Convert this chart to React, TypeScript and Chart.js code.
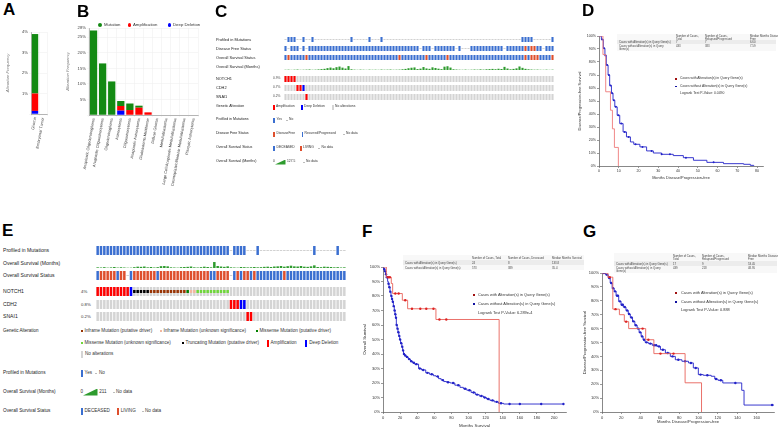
import React, { useEffect, useRef } from "react";
import { Chart, registerables } from "chart.js";

Chart.register(...registerables);

const FONT = "'Liberation Sans', Arial, Helvetica, sans-serif";
Chart.defaults.font.family = FONT;

// ================= Panel A =================
const aCategories = ["Glioma", "Embryonal Tumor"];
const aMutation = [2.9, 0];
const aAmplification = [0.85, 0];
const aDeepDeletion = [0.15, 0];

// ================= Panel B =================
const bCategories = [
  "Anaplastic Oligodendroglioma",
  "Anaplastic Oligoastrocytoma",
  "Oligodendroglioma",
  "Astrocytoma",
  "Oligoastrocytoma",
  "Anaplastic Astrocytoma",
  "Glioblastoma Multiforme",
  "Diffuse Glioma",
  "Medulloblastoma",
  "Large Cell/Anaplastic Medulloblastoma",
  "Desmoplastic/Nodular Medulloblastoma",
  "Pilocytic Astrocytoma",
];
const bMutation = [27.2, 16.6, 10.8, 1.6, 2.1, 0.65, 0, 0, 0, 0, 0, 0];
const bAmplification = [0, 0, 0, 1.5, 1.6, 2.35, 0.85, 0, 0, 0, 0, 0];
const bDeepDeletion = [0, 0, 0, 1.4, 0, 0, 0, 0, 0, 0, 0, 0];

// ================= Panel C (oncoprint, 90 samples) =================
const cProfiled = "-YYY--Y--Y ---------- --Y-----Y- --Y------- ---------- ---------- ---------- ---------Y YYY------Y";
const cDiseaseFree = "R-RRR-R-RR RRRRRRRRRR RRRRRRRRRR RRRRRRRRRR RRRRR-RRR- RRRRRRR-R- --RRRRRRRR RRR-RRRRRR FRFFRR-RRR";
const cOsStatus = "DLDDDDDLDD DDDDDDDDDD DDDDDDDDDD DDDDDDDDLD DDDDDDDLDD DDDDLDDDDD DDDDDDDDDD DDDDDDDDDD LDLLLDDDDL";
const cOsMonths = [
  6, 9, 4, 8, 12, 5, 7, 10, 14, 6,
  9, 15, 22, 30, 48, 62, 45, 72, 88, 60,
  38, 100, 18, 9, 5, 10, 7, 4, 9, 6,
  8, 5, 11, 7, 9, 12, 6, 8, 10, 18,
  28, 45, 58, 66, 24, 35, 75, 40, 30, 68,
  52, 34, 22, 85, 96, 62, 18, 12, 8, 6,
  10, 5, 8, 12, 9, 16, 10, 18, 22, 28,
  20, 32, 26, 80, 38, 18, 28, 42, 90, 55,
  30, 18, 12, 8, 10, 6, 5, 9, 4, 8,
];
const cOsMonthsMax = 127.5;
const cNotch1 = "AAAA...... .......... .......... .......... .......... .......... .......... .......... ..........";
const cCdh2 = "....AAX... .......... .......... .......... .......... .......... .......... .......... ..........";
const cSnai1 = ".......A.. .......... .......... .......... .......... .......... .......... .......... ..........";
const cPercents = ["0.9%", "0.7%", "0.2%"];

// ================= Panel E (oncoprint, 75 samples) =================
const eProfiled = "YYYYYYYYYY YYYYYYYYYY YYYYYYYYYY YYYYYYYYYY -YYYY---Y- ---------- -----Y---- --Y--";
const eOsStatus = "DLLLLLDLLN DLLLLLLLDL LLLLLLLLLL LLLLDDLLLL NDLDLLDLDD DDDDDDLDDD DDDDDDDDDD DDDDD";
const eOsMonths = [
  20, 15, 25, 10, 18, 30, 12, 22, 15, 8,
  10, 25, 40, 35, 45, 20, 30, 15, 25, 55,
  60, 50, 20, 15, 10, 25, 30, 35, 45, 20,
  15, 25, 40, 30, 20, 180, 60, 45, 35, 50,
  20, 15, 10, 30, 25, 18, 22, 30, 20, 25,
  35, 40, 30, 45, 50, 60, 40, 55, 70, 50,
  45, 60, 40, 35, 50, 80, 30, 25, 40, 35,
  30, 20, 25, 15, 20,
];
const eOsMonthsMax = 211;
const eNotch1 = "AAAAAAAAAA XTTTTTPPPP PPPPPPPMUU SSSSSSSSSS .......... .......... .......... .....";
const eCdh2 = ".......... .......... .......... .......... AAAXX..... .......... .......... .....";
const eSnai1 = ".......... .......... .......... .......... .....AA... .......... .......... .....";
const ePercents = ["4%", "0.8%", "0.2%"];

// ================= Panel D (KM, disease/progression-free) =================
const dWithT = [0, 2.0, 3.4, 5.8, 6.8, 7.8, 9.8];
const dWithS = [100, 85.7, 57.1, 42.9, 28.6, 14.3, 0];
const dWithCensor: number[] = [];
const dWithoutT = [0, 1.2, 2.2, 3.0, 3.7, 4.6, 5.4, 6.3, 7.1, 8.0, 9.2, 10.5, 12.2, 13.9, 15.9, 17.6, 20.7, 24.1, 27.5, 31.7, 37.6, 42.7, 47.8, 54.6, 63.0, 73.2, 76.6, 78.3];
const dWithoutS = [100, 97.4, 90.5, 85, 77.6, 70, 62, 56, 50.6, 45.5, 39, 32.6, 26.2, 22.4, 18.5, 16.7, 14.7, 11.6, 10, 9, 8, 6.4, 4.4, 2.8, 1.8, 1.3, 0.5, 0];
const dWithoutCensor = [1.6, 2.6, 3.3, 4.1, 5.0, 5.8, 6.7, 7.5, 8.5, 9.8, 11.3, 13, 15, 18.5, 22, 26.6, 31.7, 35.9, 44, 58];

// ================= Panel F (KM, overall survival) =================
const fWithT = [0, 3.9, 9.7, 11.3, 22.6, 28.8, 61.9, 135.8];
const fWithS = [100, 92.9, 88.6, 81.7, 77.1, 71.2, 63.8, 0];
const fWithCensor = [6, 8, 14.4, 18.3, 26, 33.9, 43.6, 50.6, 59, 66, 74];
const fWithoutT = [0, 1, 2, 3, 4, 5.4, 6.2, 7, 8.2, 9.3, 10.2, 11, 12.1, 13.2, 14, 14.8, 15.6, 16.5, 17.5, 18.5, 19.5, 20.6, 22, 23, 24, 25.5, 27, 29.5, 32, 34.5, 37, 41.6, 45, 50, 54.5, 59, 62, 65, 68, 71, 74.5, 78.6, 84, 90, 94, 98, 103, 108, 112.5, 117.5, 121, 125, 130, 135, 141, 211];
const fWithoutS = [100, 98.5, 97, 95, 93, 90, 88.5, 86, 83, 80, 78, 76, 73, 70, 67.5, 65, 60, 57.5, 55, 52.5, 50, 47.5, 45, 42.5, 40, 39, 38, 36.5, 35, 34, 33, 30, 29, 27, 26, 25, 24.5, 23, 22, 21, 20.5, 20, 18.5, 17, 16, 15, 13.5, 12, 11, 10, 9, 8, 7, 6, 5.5, 5.5];
const fWithoutCensor = [1.5, 2.5, 3.5, 4.5, 5, 6.5, 7.5, 8.5, 9.8, 10.6, 11.5, 12.6, 13.6, 14.4, 15.2, 16, 17, 18, 19, 20, 21.3, 22.5, 23.5, 24.5, 26, 28, 30.5, 33, 36, 39, 43, 47, 52, 57, 64, 70, 76, 82, 88, 96, 101, 106, 110, 115, 119, 123, 128, 133, 138, 148, 160, 185, 211];

// ================= Panel G (KM, disease/progression-free) =================
const gWithT = [0, 6.1, 11.2, 18, 23.1, 27.6, 45.2, 53.7, 86, 103];
const gWithS = [100, 97, 74, 70, 65, 60, 52, 42, 21, 0];
const gWithCensor = [8, 14, 25, 42, 48, 60.5, 74];
const gWithoutT = [0, 3.7, 6.5, 8.5, 10.5, 12.6, 14.6, 17.3, 19.7, 22, 24.8, 27.2, 29.3, 31.6, 34, 36.4, 38.4, 40.5, 42.5, 44.6, 48, 52, 57, 60.5, 65.6, 70.7, 75.9, 82.7, 89.5, 94.5, 99.7, 104.8, 113, 116.7, 120, 125, 144.6, 147, 178];
const gWithoutS = [100, 98.8, 96.4, 92.8, 89, 86.8, 83.7, 79.6, 77.2, 75.5, 73, 70.5, 68, 65.2, 62.4, 60, 57.3, 54.4, 52, 50.1, 49.2, 48, 47.2, 44.8, 42.4, 40, 37.6, 36.5, 35.3, 31.7, 26.9, 26.4, 25.7, 23.7, 22.8, 20.9, 15.6, 5, 5];
const gWithoutCensor = [2, 5, 7.5, 9.5, 11.5, 13.5, 15.5, 16.5, 18.5, 20.5, 21.5, 23.5, 26, 28, 30.5, 32.5, 35, 37.5, 39.5, 41.5, 43.5, 46, 50, 54, 56, 59, 63, 68, 73, 79, 86, 92, 97, 102, 109, 118, 123, 138, 176];

// ================= colours =================
const GREEN = "#138a13";
const RED = "#ff0000";
const BLUE = "#0000ff";
const CL_BLUE = "#3b6fd0";
const CL_RED = "#de4f2d";
const CELL_GRAY = "#d4d4d4";
const LINE_GRAY = "#bdbdbd";
const OSM_GREEN = "#2e9b2e";
const KM_BLUE = "#2222c8";

// ================= helpers =================
const seq = (s: string) => s.replace(/\s/g, "").split("");

type Glyph = { color: string; kind: "full" | "mid" | "line" };
type Track =
  | { code: string; top: number; bottom: number; glyphs: Record<string, Glyph>; background?: string }
  | { values: number[]; max: number; baseline: number; height: number; color: string };

function oncoConfig(tracks: Track[], n: number, H: number, bp: number): any {
  const datasets: any[] = [];
  for (const tr of tracks) {
    if ("values" in tr) {
      datasets.push({
        data: tr.values.map((v) => [tr.baseline - (v / tr.max) * tr.height, tr.baseline]),
        backgroundColor: tr.color,
        order: 2,
      });
      continue;
    }
    const chars = seq(tr.code);
    const h = tr.bottom - tr.top;
    if (tr.background) {
      datasets.push({ data: chars.map(() => [tr.top, tr.bottom]), backgroundColor: tr.background, order: 5 });
    }
    for (const [ch, g] of Object.entries(tr.glyphs)) {
      const span =
        g.kind === "full"
          ? [tr.top, tr.bottom]
          : g.kind === "mid"
          ? [tr.top + h / 3, tr.bottom - h / 3]
          : [tr.top + h / 2 - 0.35, tr.top + h / 2 + 0.35];
      datasets.push({
        data: chars.map((c) => (c === ch ? span : null)),
        backgroundColor: g.color,
        order: g.kind === "mid" ? 1 : 3,
      });
    }
  }
  return {
    type: "bar",
    data: { labels: Array.from({ length: n }, (_, i) => String(i + 1)), datasets },
    options: {
      animation: false,
      responsive: false,
      devicePixelRatio: 1,
      layout: { padding: 0 },
      plugins: { legend: { display: false }, tooltip: { enabled: false } },
      datasets: { bar: { grouped: false, barPercentage: bp, categoryPercentage: 1, borderWidth: 0, inflateAmount: 0 } },
      scales: {
        x: { display: false },
        y: { display: false, min: 0, max: H, reverse: true },
      },
    },
  };
}

function freqConfig(o: {
  labels: string[]; mut: number[]; amp: number[]; del: number[]; yMax: number; yW: number; xH: number;
  pad: any; titlePad: number; tickFont: number; labelFont: number; bp: number;
}): any {
  return {
    type: "bar",
    data: {
      labels: o.labels,
      datasets: [
        { label: "Deep Deletion", data: o.del, backgroundColor: BLUE },
        { label: "Amplification", data: o.amp, backgroundColor: RED },
        { label: "Mutation", data: o.mut, backgroundColor: GREEN },
      ],
    },
    options: {
      animation: false,
      responsive: false,
      devicePixelRatio: 1,
      layout: { padding: o.pad },
      plugins: { legend: { display: false }, tooltip: { enabled: false } },
      datasets: { bar: { barPercentage: o.bp, categoryPercentage: 1, borderWidth: 0 } },
      scales: {
        x: {
          stacked: true,
          ticks: { minRotation: 80, maxRotation: 80, autoSkip: false, font: { size: o.labelFont }, color: "#444", padding: 1 },
          grid: { color: "#ececec", lineWidth: 0.5, tickLength: 2 },
          border: { color: "#999", width: 0.7 },
          afterFit: (s: any) => { s.height = o.xH; },
        },
        y: {
          stacked: true,
          min: 0,
          max: o.yMax,
          ticks: { stepSize: o.yMax > 10 ? 5 : 1, font: { size: o.tickFont }, color: "#444", padding: 1, callback: (v: number) => (v === 0 ? "" : v + "%") },
          grid: { color: "#ececec", lineWidth: 0.5, tickLength: 2 },
          border: { color: "#999", width: 0.7 },
          title: { display: true, text: "Alteration Frequency", font: { size: o.tickFont, style: "italic" }, color: "#777", padding: { top: o.titlePad, bottom: 0 } },
          afterFit: (s: any) => { s.width = o.yW; },
        },
      },
    },
  };
}

function survAt(t: number[], s: number[], x: number) {
  let v = s[0];
  for (let i = 0; i < t.length; i++) if (t[i] <= x) v = s[i];
  return v;
}
const pts = (t: number[], s: number[]) => t.map((x, i) => ({ x, y: s[i] }));
const censorPts = (c: number[], t: number[], s: number[]) => c.map((x) => ({ x, y: survAt(t, s, x) }));

function kmConfig(o: any): any {
  const axisLook = {
    grid: { drawOnChartArea: false, drawTicks: true, tickLength: 2, color: "#555", lineWidth: 0.6 },
    border: { display: true, color: "#555", width: 0.7 },
  };
  return {
    type: "scatter",
    data: {
      datasets: [
        { data: pts(o.woT, o.woS), showLine: true, stepped: "before", borderColor: KM_BLUE, borderWidth: 0.9, pointRadius: 0, order: 4 },
        { data: censorPts(o.woC, o.woT, o.woS), showLine: false, pointRadius: o.markR, pointBackgroundColor: KM_BLUE, pointBorderWidth: 0, order: 3 },
        { data: pts(o.wT, o.wS), showLine: true, stepped: "before", borderColor: o.red, borderWidth: 0.9, pointRadius: 0, order: 2 },
        { data: censorPts(o.wC, o.wT, o.wS), showLine: false, pointRadius: o.markR, pointBackgroundColor: "#d22", pointBorderWidth: 0, order: 1 },
      ],
    },
    options: {
      animation: false,
      responsive: false,
      devicePixelRatio: 1,
      layout: { padding: o.pad },
      plugins: { legend: { display: false }, tooltip: { enabled: false } },
      scales: {
        x: {
          type: "linear",
          min: 0,
          max: o.xMax,
          ...axisLook,
          ticks: { stepSize: o.xStep, includeBounds: false, autoSkip: false, maxRotation: 0, font: { size: o.tickFont }, color: "#333", padding: 1 },
          title: { display: true, text: o.xTitle, font: { size: o.titleFont }, color: "#333", padding: { top: 0, bottom: o.xTitlePad } },
          afterFit: (s: any) => { s.height = o.xH; },
        },
        y: {
          type: "linear",
          min: 0,
          max: 100,
          ...axisLook,
          ticks: { stepSize: 10, autoSkip: false, font: { size: o.tickFont }, color: "#333", padding: 1, callback: (v: number) => v + "%" },
          title: { display: true, text: o.yTitle, font: { size: o.titleFont }, color: "#333", padding: { top: o.yTitlePad, bottom: 0 } },
          afterFit: (s: any) => { s.width = o.yW; },
        },
      },
    },
  };
}

// ================= HTML text helpers =================
type TX = [number, number, number, string, string?, boolean?];
const Txt = ({ t }: { t: TX }) => (
  <div
    style={{
      position: "absolute",
      left: t[0],
      top: t[1],
      fontSize: t[2],
      lineHeight: 1,
      color: t[4] || "#222",
      fontWeight: t[5] ? 700 : 400,
      whiteSpace: "nowrap",
      transform: "translateY(-50%)",
    }}
  >
    {t[3]}
  </div>
);
type BX = [number, number, number, number, string, number?]; // x, yCenter, w, h, color, radius
const Box = ({ b }: { b: BX }) => (
  <div style={{ position: "absolute", left: b[0], top: b[1] - b[3] / 2, width: b[2], height: b[3], background: b[4], borderRadius: b[5] || 0 }} />
);
const Tri = ({ x, y, w, h }: { x: number; y: number; w: number; h: number }) => (
  <div style={{ position: "absolute", left: x, top: y - h / 2, width: w, height: h, background: OSM_GREEN, clipPath: "polygon(0 100%, 100% 0, 100% 100%)" }} />
);
type RX = [number, number, number, number, string]; // x, y, w, h, color (top-left)
const Rect = ({ r }: { r: RX }) => (
  <div style={{ position: "absolute", left: r[0], top: r[1], width: r[2], height: r[3], background: r[4] }} />
);

const panelLabels: TX[] = [
  [3, 9, 17, "A", "#000", true],
  [77, 10.5, 17, "B", "#000", true],
  [215, 10.5, 17, "C", "#000", true],
  [582, 9.5, 17, "D", "#000", true],
  [2, 230, 17, "E", "#000", true],
  [362, 231, 17, "F", "#000", true],
  [583, 231, 17, "G", "#000", true],
];

const bLegend: { bx: BX[]; tx: TX[] } = {
  bx: [
    [98.3, 25, 3.4, 3.4, GREEN, 2],
    [127.6, 25, 3.4, 3.4, RED, 2],
    [167.6, 25, 3.4, 3.4, BLUE, 2],
  ],
  tx: [
    [104, 25, 4.3, "Mutation", "#333"],
    [133, 25, 4.3, "Amplification", "#333"],
    [173, 25, 4.3, "Deep Deletion", "#333"],
  ],
};

const cTexts: TX[] = [
  [216, 40, 3.9, "Profiled in Mutations"],
  [216, 49, 3.9, "Disease Free Status"],
  [216, 58, 3.9, "Overall Survival Status"],
  [216, 67, 3.9, "Overall Survival (Months)"],
  [216, 79, 3.9, "NOTCH1"],
  [216, 88, 3.9, "CDH2"],
  [216, 97, 3.9, "SNAI1"],
  [216, 107, 3.6, "Genetic Alteration"],
  [273, 79, 3.2, cPercents[0], "#444"],
  [273, 88, 3.2, cPercents[1], "#444"],
  [273, 97, 3.2, cPercents[2], "#444"],
  [276, 107, 3.3, "Amplification", "#333"],
  [304, 107, 3.3, "Deep Deletion", "#333"],
  [335, 107, 3.3, "No alterations", "#333"],
  [216, 120, 3.6, "Profiled in Mutations"],
  [276.5, 120, 3.3, "Yes", "#333"],
  [289, 120, 3.3, "No", "#333"],
  [216, 134, 3.6, "Disease Free Status"],
  [276.5, 134, 3.3, "DiseaseFree", "#333"],
  [304.5, 134, 3.3, "Recurred/Progressed", "#333"],
  [346, 134, 3.3, "No data", "#333"],
  [216, 148, 3.6, "Overall Survival Status"],
  [276.5, 148, 3.3, "DECEASED", "#333"],
  [303, 148, 3.3, "LIVING", "#333"],
  [321.5, 148, 3.3, "No data", "#333"],
  [216, 162, 3.6, "Overall Survival (Months)"],
  [273, 162, 3.3, "0", "#333"],
  [287, 162, 3.3, "127.5", "#333"],
  [306, 162, 3.3, "No data", "#333"],
];
const cBoxes: BX[] = [
  [273, 107, 1.5, 5, RED],
  [301, 107, 1.5, 5, BLUE],
  [332, 107, 1.5, 5, CELL_GRAY],
  [273, 120, 1.5, 5, CL_BLUE],
  [285.5, 120, 2, 0.6, LINE_GRAY],
  [273, 134, 1.5, 5, CL_RED],
  [301.5, 134, 1.5, 5, CL_BLUE],
  [342.5, 134, 2, 0.6, LINE_GRAY],
  [273, 148, 1.5, 5, CL_BLUE],
  [300, 148, 1.5, 5, CL_RED],
  [318, 148, 2, 0.6, LINE_GRAY],
  [302.5, 162, 2, 0.6, LINE_GRAY],
];

const eTexts: TX[] = [
  [3, 251, 5.1, "Profiled in Mutations"],
  [3, 263.5, 5.1, "Overall Survival (Months)"],
  [3, 276, 5.1, "Overall Survival Status"],
  [3, 292, 5.1, "NOTCH1"],
  [3, 304.5, 5.1, "CDH2"],
  [3, 317, 5.1, "SNAI1"],
  [3, 330.5, 4.5, "Genetic Alteration"],
  [81, 292, 4.3, ePercents[0], "#333"],
  [81, 304.5, 4.3, ePercents[1], "#333"],
  [81, 317, 4.3, ePercents[2], "#333"],
  [84.5, 331, 4.6, "Inframe Mutation (putative driver)", "#333"],
  [163.5, 331, 4.6, "Inframe Mutation (unknown significance)", "#333"],
  [259.5, 331, 4.6, "Missense Mutation (putative driver)", "#333"],
  [84.5, 343.3, 4.6, "Missense Mutation (unknown significance)", "#333"],
  [185.5, 343.3, 4.6, "Truncating Mutation (putative driver)", "#333"],
  [270.5, 343.3, 4.6, "Amplification", "#333"],
  [309.3, 343.3, 4.6, "Deep Deletion", "#333"],
  [85, 354.3, 4.6, "No alterations", "#333"],
  [3, 373, 4.7, "Profiled in Mutations"],
  [84.5, 373, 4.6, "Yes", "#333"],
  [99, 373, 4.6, "No", "#333"],
  [3, 392, 4.7, "Overall Survival (Months)"],
  [80.5, 392, 4.6, "0", "#333"],
  [99.3, 392, 4.6, "211", "#333"],
  [116, 392, 4.6, "No data", "#333"],
  [3, 411, 4.7, "Overall Survival Status"],
  [84.5, 411, 4.6, "DECEASED", "#333"],
  [120.7, 411, 4.6, "LIVING", "#333"],
  [145, 411, 4.6, "No data", "#333"],
];
const eBoxes: BX[] = [
  [80.7, 331, 2.2, 2.4, "#993404"],
  [160, 331, 2.2, 2.4, "#f2b69f"],
  [256, 331, 2.2, 2.4, "#008000"],
  [80.7, 343.3, 2.2, 2.4, "#6fd63a"],
  [181.7, 343.3, 2.2, 2.4, "#000"],
  [266.7, 343.3, 2.2, 7, RED],
  [305, 343.3, 2.2, 7, BLUE],
  [80.7, 354.3, 2.2, 7, CELL_GRAY],
  [80.7, 373, 2.2, 7, CL_BLUE],
  [94.5, 373, 2.5, 0.7, LINE_GRAY],
  [112.5, 392, 2.5, 0.7, LINE_GRAY],
  [80.7, 411, 2.2, 7, CL_BLUE],
  [117.3, 411, 2.2, 7, CL_RED],
  [141.5, 411, 2.5, 0.7, LINE_GRAY],
];

// KM legends and tables
const kmTexts: TX[] = [
  // D legend
  [680, 79.3, 3.4, "Cases with Alteration(s) in Query Gene(s)", "#333"],
  [680, 86.5, 3.4, "Cases without Alteration(s) in Query Gene(s)", "#333"],
  [680, 94.3, 3.4, "Logrank Test P-Value: 0.0490", "#333"],
  // D table
  [676, 35.5, 2.8, "Number of Cases,", "#444"],
  [676, 38.5, 2.8, "Total", "#444"],
  [705, 35.5, 2.8, "Number of Cases,", "#444"],
  [705, 38.5, 2.8, "Relapsed/Progressed", "#444"],
  [750, 35.5, 2.8, "Median Months Disease", "#444"],
  [750, 38.5, 2.8, "Free", "#444"],
  [619, 42, 2.8, "Cases with Alteration(s) in Query Gene(s)", "#444"],
  [676, 42, 2.8, "7", "#444"],
  [705, 42, 2.8, "7", "#444"],
  [750, 42, 2.8, "6.60", "#444"],
  [619, 45.5, 2.8, "Cases without Alteration(s) in Query", "#444"],
  [619, 48.5, 2.8, "Gene(s)", "#444"],
  [676, 45.5, 2.8, "433", "#444"],
  [705, 45.5, 2.8, "383", "#444"],
  [750, 45.5, 2.8, "7.59", "#444"],
  // F legend
  [478, 295, 3.9, "Cases with Alteration(s) in Query Gene(s)", "#333"],
  [478, 304, 3.9, "Cases without Alteration(s) in Query Gene(s)", "#333"],
  [478, 312.7, 3.9, "Logrank Test P-Value: 6.289e-4", "#333"],
  // F table
  [472, 257.7, 2.8, "Number of Cases, Total", "#444"],
  [508, 257.7, 2.8, "Number of Cases, Deceased", "#444"],
  [552, 257.7, 2.8, "Median Months Survival", "#444"],
  [405, 262.7, 2.8, "Cases with Alteration(s) in Query Gene(s)", "#444"],
  [472, 262.7, 2.8, "24", "#444"],
  [508, 262.7, 2.8, "8", "#444"],
  [552, 262.7, 2.8, "133.8", "#444"],
  [405, 267.7, 2.8, "Cases without Alteration(s) in Query Gene(s)", "#444"],
  [472, 267.7, 2.8, "573", "#444"],
  [508, 267.7, 2.8, "389", "#444"],
  [552, 267.7, 2.8, "35.4", "#444"],
  // G legend
  [681, 292.7, 3.9, "Cases with Alteration(s) in Query Gene(s)", "#333"],
  [681, 301.7, 3.9, "Cases without Alteration(s) in Query Gene(s)", "#333"],
  [681, 310.3, 3.9, "Logrank Test P-Value: 0.888", "#333"],
  // G table
  [673, 255.5, 2.8, "Number of Cases,", "#444"],
  [673, 259, 2.8, "Total", "#444"],
  [702, 255.5, 2.8, "Number of Cases,", "#444"],
  [702, 259, 2.8, "Relapsed/Progressed", "#444"],
  [748, 255.5, 2.8, "Median Months Disease", "#444"],
  [748, 259, 2.8, "Free", "#444"],
  [616, 264, 2.8, "Cases with Alteration(s) in Query Gene(s)", "#444"],
  [673, 264, 2.8, "17", "#444"],
  [702, 264, 2.8, "9", "#444"],
  [748, 264, 2.8, "53.45", "#444"],
  [616, 268, 2.8, "Cases without Alteration(s) in Query", "#444"],
  [616, 271.3, 2.8, "Gene(s)", "#444"],
  [673, 268, 2.8, "439", "#444"],
  [702, 268, 2.8, "218", "#444"],
  [748, 268, 2.8, "48.95", "#444"],
];
const kmBoxes: BX[] = [
  [675, 79.3, 1.8, 1.8, "#a01010"],
  [675, 86.5, 1.8, 1.8, "#1010a0"],
  [473, 295, 2, 2, "#a01010"],
  [473, 304, 2, 2, "#1010a0"],
  [675, 292.7, 2, 2, "#a01010"],
  [675, 301.7, 2, 2, "#1010a0"],
];
const tableRects: RX[] = [
  [617, 33.5, 159, 6.5, "#f8f8f8"],
  [617, 40, 159, 4, "#ececec"],
  [617, 44, 159, 6.5, "#f8f8f8"],
  [403, 255.2, 181, 5, "#f8f8f8"],
  [403, 260.2, 181, 5, "#ececec"],
  [403, 265.2, 181, 5, "#f8f8f8"],
  [614, 253.2, 163, 8, "#f8f8f8"],
  [614, 261.2, 163, 5, "#ececec"],
  [614, 266.2, 163, 7.2, "#f8f8f8"],
];

export default function App() {
  const aRef = useRef<HTMLCanvasElement>(null);
  const bRef = useRef<HTMLCanvasElement>(null);
  const cRef = useRef<HTMLCanvasElement>(null);
  const dRef = useRef<HTMLCanvasElement>(null);
  const eRef = useRef<HTMLCanvasElement>(null);
  const fRef = useRef<HTMLCanvasElement>(null);
  const gRef = useRef<HTMLCanvasElement>(null);

  useEffect(() => {
    const charts: Chart[] = [];
    charts.push(
      new Chart(aRef.current!, freqConfig({
        labels: aCategories, mut: aMutation, amp: aAmplification, del: aDeepDeletion,
        yMax: 4, yW: 31, xH: 46, pad: { top: 12, right: 5, left: 0, bottom: 0 }, titlePad: 5.5,
        tickFont: 4.2, labelFont: 4, bp: 0.8,
      }))
    );
    charts.push(
      new Chart(bRef.current!, freqConfig({
        labels: bCategories, mut: bMutation, amp: bAmplification, del: bDeepDeletion,
        yMax: 28, yW: 31, xH: 90, pad: { top: 28, right: 5, left: 0, bottom: 0 }, titlePad: 7.5,
        tickFont: 4.2, labelFont: 3.9, bp: 0.8,
      }))
    );
    charts.push(
      new Chart(cRef.current!, oncoConfig([
        { code: cProfiled, top: 1, bottom: 6, glyphs: { Y: { color: CL_BLUE, kind: "full" }, "-": { color: LINE_GRAY, kind: "line" } } },
        { code: cDiseaseFree, top: 10, bottom: 15, glyphs: { R: { color: CL_BLUE, kind: "full" }, F: { color: CL_RED, kind: "full" }, "-": { color: LINE_GRAY, kind: "line" } } },
        { code: cOsStatus, top: 19, bottom: 24, glyphs: { D: { color: CL_BLUE, kind: "full" }, L: { color: CL_RED, kind: "full" } } },
        { values: cOsMonths, max: cOsMonthsMax, baseline: 34, height: 5, color: OSM_GREEN },
        { code: cNotch1, top: 40, bottom: 46, background: CELL_GRAY, glyphs: { A: { color: RED, kind: "full" }, X: { color: BLUE, kind: "full" } } },
        { code: cCdh2, top: 49, bottom: 55, background: CELL_GRAY, glyphs: { A: { color: RED, kind: "full" }, X: { color: BLUE, kind: "full" } } },
        { code: cSnai1, top: 58, bottom: 64, background: CELL_GRAY, glyphs: { A: { color: RED, kind: "full" }, X: { color: BLUE, kind: "full" } } },
      ], 90, 65, 0.7))
    );
    const mutGlyphs: Record<string, Glyph> = {
      A: { color: RED, kind: "full" },
      X: { color: BLUE, kind: "full" },
      T: { color: "#000000", kind: "mid" },
      P: { color: "#993404", kind: "mid" },
      U: { color: "#f2b69f", kind: "mid" },
      M: { color: "#008000", kind: "mid" },
      S: { color: "#6fd63a", kind: "mid" },
    };
    charts.push(
      new Chart(eRef.current!, oncoConfig([
        { code: eProfiled, top: 1, bottom: 10, glyphs: { Y: { color: CL_BLUE, kind: "full" }, "-": { color: LINE_GRAY, kind: "line" } } },
        { values: eOsMonths, max: eOsMonthsMax, baseline: 23, height: 7, color: OSM_GREEN },
        { code: eOsStatus, top: 26, bottom: 35, glyphs: { D: { color: CL_BLUE, kind: "full" }, L: { color: CL_RED, kind: "full" }, N: { color: LINE_GRAY, kind: "line" } } },
        { code: eNotch1, top: 42, bottom: 51, background: CELL_GRAY, glyphs: mutGlyphs },
        { code: eCdh2, top: 55, bottom: 64, background: CELL_GRAY, glyphs: mutGlyphs },
        { code: eSnai1, top: 67, bottom: 76, background: CELL_GRAY, glyphs: mutGlyphs },
      ], 75, 77, 0.75))
    );
    charts.push(
      new Chart(dRef.current!, kmConfig({
        wT: dWithT, wS: dWithS, wC: dWithCensor, woT: dWithoutT, woS: dWithoutS, woC: dWithoutCensor,
        red: "#ee7b7b", xMax: 83, xStep: 10, xTitle: "Months Disease/Progression-free", yTitle: "Disease/Progression-free Survival",
        pad: { top: 8, right: 15, left: 0, bottom: 0 }, yW: 24, xH: 20, tickFont: 3.6, titleFont: 3.9, xTitlePad: 5.5, yTitlePad: 2.5, markR: 1.0,
      }))
    );
    charts.push(
      new Chart(fRef.current!, kmConfig({
        wT: fWithT, wS: fWithS, wC: fWithCensor, woT: fWithoutT, woS: fWithoutS, woC: fWithoutCensor,
        red: "#e8625a", xMax: 214, xStep: 20, xTitle: "Months Survival", yTitle: "Overall Survival",
        pad: { top: 8, right: 6, left: 0, bottom: 0 }, yW: 21, xH: 17, tickFont: 4.0, titleFont: 4.4, xTitlePad: 0.3, yTitlePad: 0.5, markR: 1.2,
      }))
    );
    charts.push(
      new Chart(gRef.current!, kmConfig({
        wT: gWithT, wS: gWithS, wC: gWithCensor, woT: gWithoutT, woS: gWithoutS, woC: gWithoutCensor,
        red: "#e8625a", xMax: 178, xStep: 20, xTitle: "Months Disease/Progression-free", yTitle: "Disease/Progression-free Survival",
        pad: { top: 8, right: 1, left: 0, bottom: 0 }, yW: 20, xH: 17, tickFont: 4.0, titleFont: 4.2, xTitlePad: 4.5, yTitlePad: 0.5, markR: 1.2,
      }))
    );
    return () => charts.forEach((c) => c.destroy());
  }, []);

  const cv = (ref: any, left: number, top: number, w: number, h: number) => (
    <canvas ref={ref} width={w} height={h} style={{ position: "absolute", left, top, width: w, height: h }} />
  );

  return (
    <div style={{ position: "absolute", left: 0, top: 0, width: 778, height: 429, background: "#fff", overflow: "hidden", fontFamily: FONT }}>
      {tableRects.map((r, i) => <Rect key={"r" + i} r={r} />)}
      {cv(aRef, 0, 20, 52, 140)}
      {cv(bRef, 58, 0, 145, 205)}
      {cv(cRef, 284, 36, 270, 65)}
      {cv(dRef, 575, 28, 203, 158)}
      {cv(eRef, 96, 245, 250, 77)}
      {cv(fRef, 362, 259, 210, 170)}
      {cv(gRef, 582, 265, 196, 164)}
      {panelLabels.map((t, i) => <Txt key={"p" + i} t={t} />)}
      {bLegend.bx.map((b, i) => <Box key={"bb" + i} b={b} />)}
      {bLegend.tx.map((t, i) => <Txt key={"bt" + i} t={t} />)}
      {cBoxes.map((b, i) => <Box key={"cb" + i} b={b} />)}
      {cTexts.map((t, i) => <Txt key={"ct" + i} t={t} />)}
      <Tri x={275} y={162} w={10.5} h={5} />
      {eBoxes.map((b, i) => <Box key={"eb" + i} b={b} />)}
      {eTexts.map((t, i) => <Txt key={"et" + i} t={t} />)}
      <Tri x={83} y={392} w={14.5} h={7} />
      {kmBoxes.map((b, i) => <Box key={"kb" + i} b={b} />)}
      {kmTexts.map((t, i) => <Txt key={"kt" + i} t={t} />)}
    </div>
  );
}
